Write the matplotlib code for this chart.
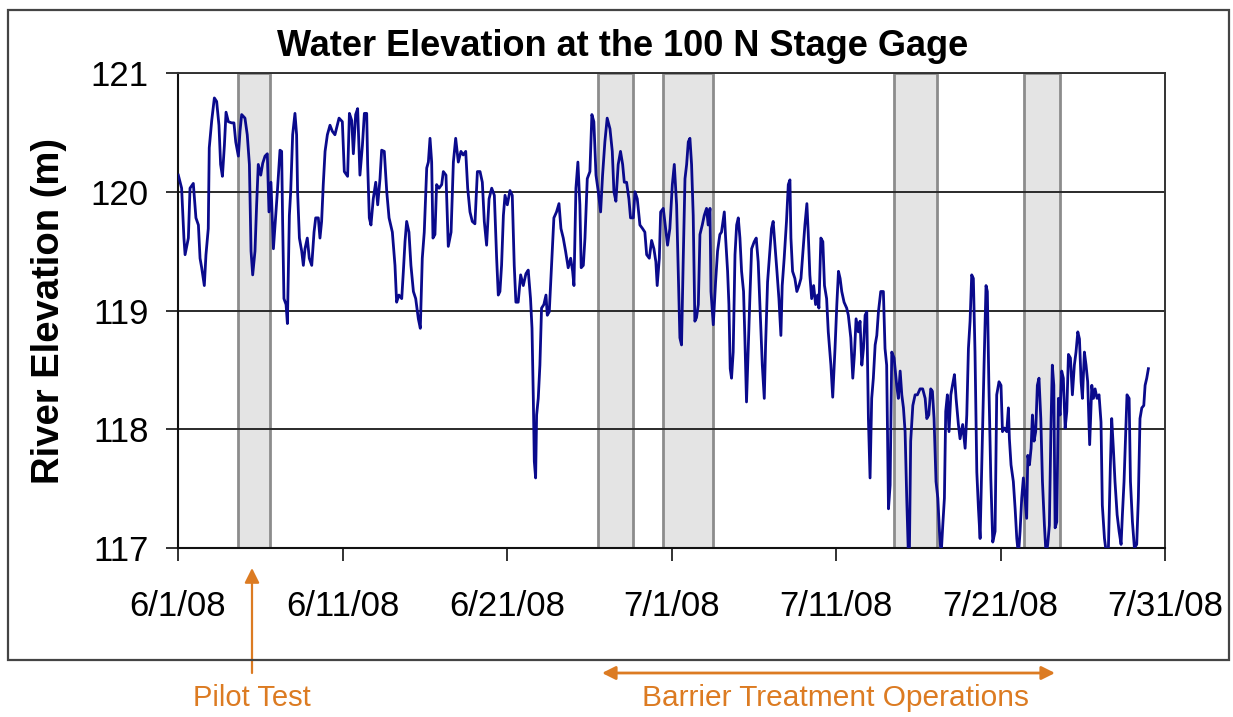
import matplotlib
matplotlib.use("Agg")
import matplotlib.pyplot as plt
from matplotlib.patches import Rectangle
import pandas as pd

plt.rcParams["font.family"] = ["Liberation Sans", "DejaVu Sans"]

# stage readings: (days after 6/1/08 00:00, river elevation in m)
stage_jun01 = [
    (0.02, 120.14), (0.22, 120.03), (0.36, 119.61), (0.43, 119.47), (0.63, 119.61), (0.73, 120.03),
    (0.93, 120.07), (1.09, 119.78), (1.24, 119.72), (1.34, 119.44), (1.44, 119.36), (1.60, 119.21),
    (1.70, 119.47), (1.84, 119.69), (1.90, 120.37), (2.05, 120.60), (2.21, 120.79), (2.35, 120.76),
    (2.49, 120.56), (2.59, 120.23), (2.70, 120.13), (2.82, 120.39), (2.92, 120.67), (3.06, 120.59),
    (3.26, 120.58), (3.40, 120.58), (3.51, 120.42), (3.67, 120.30), (3.77, 120.51), (3.87, 120.65),
    (4.07, 120.62), (4.21, 120.48), (4.34, 120.23), (4.44, 119.50), (4.54, 119.30), (4.68, 119.50),
    (4.78, 119.89), (4.88, 120.23), (5.03, 120.14), (5.15, 120.24), (5.29, 120.30), (5.43, 120.32),
    (5.53, 119.83), (5.65, 120.08), (5.80, 119.52), (5.90, 119.72), (6.04, 120.00), (6.20, 120.35),
    (6.30, 120.34), (6.36, 119.75), (6.44, 119.10), (6.57, 119.05), (6.65, 118.89), (6.77, 119.80),
    (6.85, 120.00), (6.97, 120.48), (7.11, 120.66), (7.21, 120.48), (7.27, 120.00), (7.38, 119.61),
    (7.52, 119.50), (7.62, 119.38), (7.72, 119.52), (7.86, 119.61), (7.98, 119.44), (8.13, 119.38),
    (8.27, 119.66), (8.37, 119.78), (8.53, 119.78), (8.63, 119.61), (8.73, 119.75), (8.83, 120.06),
    (8.94, 120.34), (9.08, 120.48), (9.24, 120.56), (9.38, 120.51),
]
stage_jun11 = [
    (9.54, 120.48), (9.79, 120.62), (9.99, 120.59), (10.11, 120.17), (10.31, 120.13), (10.42, 120.66),
    (10.56, 120.60), (10.66, 120.32), (10.80, 120.65), (10.92, 120.70), (11.06, 120.14), (11.21, 120.39),
    (11.33, 120.66), (11.47, 120.66), (11.53, 120.23), (11.63, 119.78), (11.73, 119.72), (11.87, 119.94),
    (12.02, 120.08), (12.14, 119.89), (12.28, 120.11), (12.38, 120.35), (12.54, 120.34), (12.69, 120.00),
    (12.83, 119.78), (13.03, 119.66), (13.19, 119.38), (13.29, 119.07), (13.43, 119.13), (13.60, 119.10),
    (13.70, 119.33), (13.80, 119.58), (13.90, 119.75), (14.04, 119.66), (14.16, 119.38), (14.31, 119.16),
    (14.45, 119.10), (14.61, 118.93), (14.73, 118.85), (14.85, 119.44), (14.97, 119.66), (15.12, 120.20),
    (15.22, 120.25), (15.32, 120.45), (15.42, 120.25), (15.50, 119.61), (15.62, 119.64), (15.72, 120.06),
    (15.87, 120.03), (16.03, 120.06), (16.13, 120.17), (16.29, 120.14), (16.43, 119.54), (16.60, 119.66),
    (16.74, 120.25), (16.88, 120.45), (17.04, 120.25), (17.20, 120.34), (17.34, 120.31), (17.49, 120.34),
    (17.61, 120.03), (17.75, 119.83), (17.89, 119.75), (18.05, 119.73), (18.20, 120.17), (18.36, 120.17),
    (18.50, 120.08), (18.62, 119.75), (18.76, 119.55), (18.91, 119.94), (19.07, 120.03), (19.23, 119.97),
    (19.37, 119.44), (19.47, 119.13),
]
stage_jun21 = [
    (19.57, 119.16), (19.67, 119.38), (19.78, 119.80), (19.88, 119.97), (20.02, 119.89), (20.18, 120.01),
    (20.32, 119.97), (20.44, 119.38), (20.54, 119.07), (20.68, 119.07), (20.83, 119.30), (20.99, 119.21),
    (21.15, 119.31), (21.29, 119.34), (21.43, 119.10), (21.52, 118.85), (21.60, 118.26), (21.66, 117.73),
    (21.74, 117.59), (21.80, 118.12), (21.90, 118.26), (22.00, 118.54), (22.10, 119.02), (22.24, 119.05),
    (22.37, 119.13), (22.45, 118.96), (22.57, 118.99), (22.71, 119.38), (22.85, 119.78), (23.01, 119.83),
    (23.16, 119.90), (23.28, 119.69), (23.42, 119.61), (23.56, 119.50), (23.72, 119.36), (23.87, 119.44),
    (23.99, 119.33), (24.07, 119.21), (24.19, 120.03), (24.31, 120.25), (24.43, 119.89), (24.51, 119.36),
    (24.64, 119.38), (24.74, 119.61), (24.88, 120.11), (25.04, 120.17), (25.16, 120.65), (25.28, 120.59),
    (25.41, 120.14), (25.55, 120.00), (25.69, 119.83), (25.81, 120.14), (25.95, 120.42), (26.09, 120.62),
    (26.26, 120.53), (26.40, 120.34), (26.50, 120.00), (26.62, 119.92), (26.76, 120.23), (26.90, 120.34),
    (27.03, 120.23), (27.13, 120.08), (27.27, 120.08), (27.41, 119.94), (27.51, 119.78), (27.68, 119.78),
    (27.78, 120.00), (27.92, 119.94), (28.08, 119.72), (28.24, 119.69), (28.38, 119.66), (28.49, 119.47),
    (28.65, 119.44), (28.79, 119.59), (28.93, 119.52), (29.05, 119.41), (29.13, 119.21), (29.26, 119.44),
    (29.34, 119.83), (29.50, 119.86),
]
stage_jul01 = [
    (29.76, 119.55), (29.90, 119.69), (30.05, 120.06), (30.17, 120.23), (30.31, 119.89), (30.41, 119.33),
    (30.51, 118.77), (30.61, 118.71), (30.71, 119.41), (30.82, 120.11), (30.92, 120.23), (31.02, 120.42),
    (31.12, 120.45), (31.22, 120.23), (31.32, 119.80), (31.42, 118.91), (31.52, 118.94), (31.63, 119.05),
    (31.73, 119.64), (31.87, 119.72), (31.99, 119.80), (32.13, 119.86), (32.23, 119.72), (32.34, 119.86),
    (32.40, 119.16), (32.54, 118.88), (32.68, 119.24), (32.80, 119.50), (32.94, 119.64), (33.04, 119.66),
    (33.21, 119.83), (33.29, 119.61), (33.41, 119.33), (33.49, 119.05), (33.57, 118.51), (33.65, 118.43),
    (33.75, 118.65), (33.86, 119.47), (33.96, 119.72), (34.06, 119.78), (34.16, 119.61), (34.26, 119.33),
    (34.38, 119.16), (34.46, 118.77), (34.56, 118.23), (34.67, 118.71), (34.77, 119.13), (34.87, 119.52),
    (35.03, 119.58), (35.15, 119.61), (35.27, 119.41), (35.40, 118.96), (35.52, 118.54), (35.64, 118.26),
    (35.72, 118.71), (35.84, 119.24), (35.98, 119.50), (36.08, 119.69), (36.18, 119.75), (36.29, 119.55),
    (36.41, 119.33), (36.53, 119.10), (36.65, 118.79), (36.73, 119.21), (36.85, 119.44), (36.99, 119.75),
    (37.10, 120.06), (37.20, 120.10), (37.26, 119.61), (37.36, 119.33), (37.50, 119.27), (37.62, 119.16),
    (37.75, 119.21), (37.87, 119.27), (37.99, 119.50), (38.11, 119.72), (38.23, 119.90), (38.31, 119.66),
    (38.41, 119.30), (38.52, 119.10), (38.64, 119.21), (38.76, 119.05), (38.88, 119.13), (38.96, 119.02),
    (39.08, 119.61), (39.20, 119.58), (39.30, 119.21), (39.43, 119.10), (39.53, 118.82),
]
stage_jul11 = [
    (39.69, 118.54), (39.80, 118.27), (39.94, 118.68), (40.05, 119.05), (40.15, 119.33), (40.25, 119.27),
    (40.35, 119.16), (40.49, 119.07), (40.65, 119.02), (40.75, 118.96), (40.90, 118.77), (41.02, 118.43),
    (41.12, 118.63), (41.22, 118.93), (41.36, 118.82), (41.46, 118.91), (41.57, 118.54), (41.67, 118.68),
    (41.77, 118.96), (41.87, 118.99), (41.97, 118.09), (42.07, 117.59), (42.17, 118.26), (42.27, 118.43),
    (42.38, 118.71), (42.48, 118.79), (42.58, 118.99), (42.72, 119.16), (42.88, 119.16), (42.98, 118.68),
    (43.08, 118.54), (43.19, 117.33), (43.29, 117.53), (43.39, 118.65), (43.53, 118.60), (43.69, 118.37),
    (43.79, 118.26), (43.90, 118.49), (44.00, 118.29), (44.10, 118.18), (44.20, 117.98), (44.30, 117.42),
    (44.40, 116.94), (44.46, 116.94), (44.54, 117.90), (44.67, 118.20), (44.81, 118.29), (44.95, 118.29),
    (45.11, 118.34), (45.27, 118.34), (45.42, 118.26), (45.52, 118.09), (45.64, 118.12), (45.76, 118.34),
    (45.86, 118.32), (45.96, 118.09), (46.08, 117.56), (46.19, 117.42), (46.29, 117.14), (46.39, 116.94),
    (46.49, 117.19), (46.59, 117.42), (46.67, 118.15), (46.77, 118.29), (46.87, 117.98), (46.98, 118.29),
    (47.08, 118.37), (47.20, 118.46), (47.30, 118.26), (47.44, 118.04), (47.54, 117.92), (47.70, 118.04),
    (47.85, 117.84), (47.95, 118.12), (48.05, 118.68), (48.15, 118.91), (48.25, 119.30), (48.35, 119.27),
    (48.45, 118.65), (48.56, 117.64), (48.66, 117.33), (48.76, 117.08), (48.86, 117.70), (49.00, 118.54),
    (49.12, 119.21), (49.20, 119.16), (49.29, 118.40), (49.41, 117.59), (49.53, 117.05),
]
stage_jul21 = [
    (49.67, 117.14), (49.77, 118.29), (49.91, 118.40), (50.03, 118.37), (50.12, 117.98), (50.24, 118.01),
    (50.38, 117.98), (50.48, 118.18), (50.54, 117.92), (50.64, 117.70), (50.78, 117.56), (50.89, 117.33),
    (50.99, 117.08), (51.09, 116.94), (51.19, 117.14), (51.29, 117.42), (51.39, 117.59), (51.49, 117.42),
    (51.59, 117.25), (51.66, 117.78), (51.76, 117.70), (51.86, 117.84), (51.94, 118.12), (52.04, 117.90),
    (52.14, 117.98), (52.24, 118.37), (52.34, 118.43), (52.45, 118.09), (52.55, 117.56), (52.67, 117.19),
    (52.77, 116.94), (52.87, 117.03), (52.97, 117.19), (53.07, 118.04), (53.15, 118.54), (53.24, 118.37),
    (53.32, 117.17), (53.42, 117.22), (53.52, 118.26), (53.62, 118.12), (53.72, 118.49), (53.82, 118.43),
    (53.93, 118.01), (54.03, 118.15), (54.13, 118.63), (54.25, 118.60), (54.37, 118.29), (54.49, 118.54),
    (54.59, 118.65), (54.70, 118.82), (54.80, 118.76), (54.90, 118.40), (54.98, 118.26), (55.10, 118.65),
    (55.20, 118.54), (55.30, 118.40), (55.42, 117.87), (55.55, 118.37), (55.65, 118.26), (55.75, 118.34),
    (55.87, 118.26), (55.99, 118.29), (56.11, 118.06), (56.19, 117.36), (56.32, 117.08), (56.42, 116.97),
    (56.56, 117.00), (56.68, 117.70), (56.76, 118.09), (56.86, 117.84), (56.96, 117.56), (57.09, 117.28),
    (57.21, 117.14), (57.33, 117.03), (57.41, 117.28), (57.51, 117.56), (57.61, 117.98), (57.69, 118.29),
    (57.82, 118.26), (57.90, 117.56), (58.02, 117.22), (58.14, 117.00), (58.28, 117.03), (58.38, 117.42),
    (58.48, 118.09), (58.59, 118.18), (58.71, 118.20), (58.79, 118.37), (58.89, 118.43), (58.99, 118.51),
]

# shaded treatment windows (start day, end day after 6/1/08)
band_start = [3.62, 25.53, 29.48, 43.50, 51.43]
band_end = [5.62, 27.66, 32.52, 46.12, 53.62]

tick_dates = ["2008-06-01", "2008-06-11", "2008-06-21", "2008-07-01",
              "2008-07-11", "2008-07-21", "2008-07-31"]
tick_labels = ["6/1/08", "6/11/08", "6/21/08", "7/1/08", "7/11/08", "7/21/08", "7/31/08"]
y_ticks = [117, 118, 119, 120, 121]

orange = "#DC7B22"
navy = "#0A0A8C"

start = pd.Timestamp("2008-06-01")
readings = stage_jun01 + stage_jun11 + stage_jun21 + stage_jul01 + stage_jul11 + stage_jul21
days = [d for d, _ in readings]
elev = [v for _, v in readings]
t = start + pd.to_timedelta(days, unit="D")

fig = plt.figure(figsize=(12.33, 7.17), dpi=100)
W, H = 1233, 717
ax = fig.add_axes([178 / W, 1 - 548 / H, 987 / W, 475 / H])

for s, e in zip(band_start, band_end):
    ax.axvspan(start + pd.Timedelta(days=s), start + pd.Timedelta(days=e),
               facecolor="#E4E4E4", edgecolor="#8C8C8C", lw=2, zorder=0.2)

ax.plot(t, elev, color=navy, lw=2, zorder=3)

ax.set_xlim(start, pd.Timestamp("2008-07-31"))
ax.set_ylim(117, 121)
ax.set_xticks(pd.to_datetime(tick_dates))
ax.set_xticklabels(tick_labels)
ax.set_yticks(y_ticks)
ax.set_axisbelow(True)
ax.yaxis.grid(True, color="#2a2a2a", lw=1.4)
ax.tick_params(axis="both", labelsize=25, direction="out", length=9, width=1.3, color="#222222")
ax.tick_params(axis="x", pad=21)
ax.tick_params(axis="y", pad=12)
for side in ["left", "bottom"]:
    ax.spines[side].set_color("#111111")
    ax.spines[side].set_linewidth(1.5)
for side in ["top", "right"]:
    ax.spines[side].set_color("#333333")
    ax.spines[side].set_linewidth(1.4)

ax.set_ylabel("River Elevation (m)", fontsize=27.5, fontweight="bold")
ax.yaxis.set_label_coords(-0.1125, 0.5)

fig.text(623 / W, 1 - 46 / H, "Water Elevation at the 100 N Stage Gage",
         ha="center", va="center", fontsize=26, fontweight="bold")

# chart area frame
fig.patches.append(Rectangle((8 / W, 1 - 660 / H), 1221 / W, 650 / H, transform=fig.transFigure,
                             fill=False, ec="#444444", lw=1.6))

# annotations below the chart
ax.annotate("", xy=(252, H - 568), xytext=(252, H - 673), xycoords="figure pixels",
            textcoords="figure pixels",
            arrowprops=dict(arrowstyle="-|>", color=orange, lw=1.6, mutation_scale=22,
                            shrinkA=0, shrinkB=0))
ax.annotate("", xy=(1055, H - 673), xytext=(602, H - 673), xycoords="figure pixels",
            textcoords="figure pixels",
            arrowprops=dict(arrowstyle="<|-|>", color=orange, lw=2, mutation_scale=20,
                            shrinkA=0, shrinkB=0))
fig.text(252 / W, 1 - 698 / H, "Pilot Test", ha="center", va="center", fontsize=21, color=orange)
fig.text(835 / W, 1 - 698 / H, "Barrier Treatment Operations", ha="center", va="center",
         fontsize=21.5, color=orange)

fig.savefig("out.png", dpi=100)
